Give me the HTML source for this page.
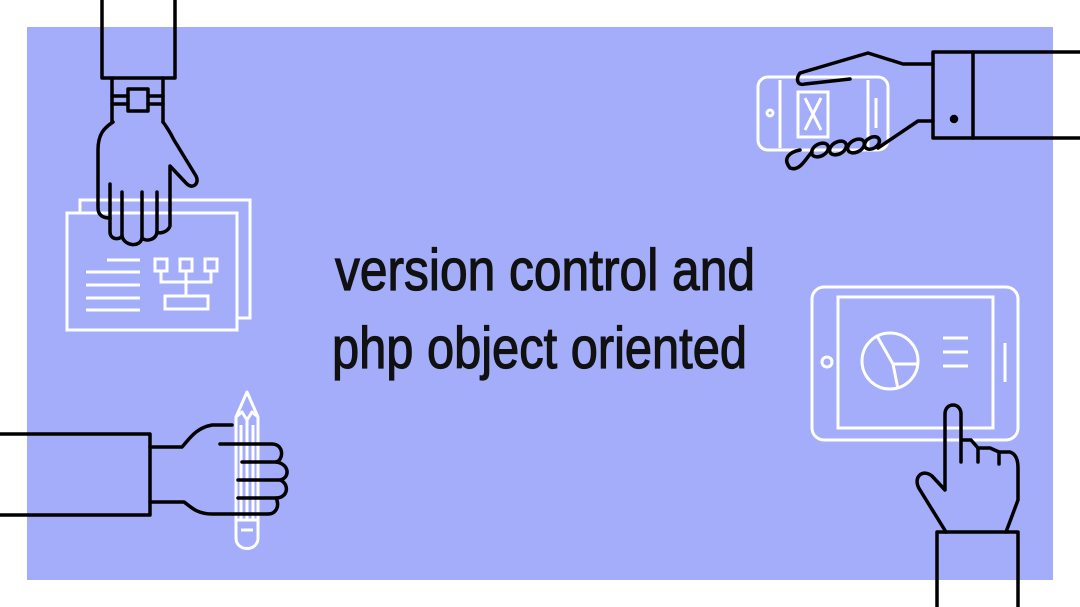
<!DOCTYPE html>
<html><head><meta charset="utf-8"><style>
html,body{margin:0;padding:0;background:#fff;}
svg{display:block;}
</style></head><body>
<svg width="1080" height="607" viewBox="0 0 1080 607" xmlns="http://www.w3.org/2000/svg">
<rect x="27" y="27" width="1026" height="553" fill="#a3adfa"/>

<!-- top-left: document -->
<g fill="none" stroke="#fff" stroke-width="3">
<path d="M80 212 V200 H250 V318 H237"/>
<rect x="67" y="213" width="170" height="117"/>
<path d="M107 260H140M86 272H140M86 285H140M86 298H140M86 310H140"/>
<rect x="155" y="259" width="12" height="12"/><rect x="180" y="259" width="12" height="12"/><rect x="205" y="259" width="12" height="12"/>
<path d="M161 271V282H211V271M186 271V296"/>
<rect x="165" y="296" width="43" height="13"/>
</g>
<!-- top-left: arm -->
<g fill="none" stroke="#000" stroke-width="3.5" stroke-linejoin="round" stroke-linecap="round">
<path d="M102 0V78H175V0"/>
<path d="M112 78V122M163 78V122"/>
<path d="M112 96H128M112 104H128M148 96H163M148 104H163"/>
<rect x="128" y="89" width="20" height="22"/>
<path d="M113 122 C104 128 98 134 98 150 V208 C98 216 104 218 110 218 V232 C110 240 120 240 122 236 C124 246 140 248 142 238 C146 242 156 240 157 232 V232 C160 234 168 232 170 226 V166 L186 183 C192 190 200 184 196 176 L174 140 C170 132 166 126 163 122"/>
<path d="M110 184V218M122 192V236M142 192V238M157 192V232"/>
</g>

<!-- top-right: phone -->
<g fill="none" stroke="#fff" stroke-width="3">
<rect x="758" y="77" width="130" height="73" rx="10"/>
<path d="M780 80V148M868 80V148"/>
<circle cx="770" cy="113" r="3"/>
<rect x="798" y="92" width="30" height="45"/>
<path d="M805 98L821 130M821 98L805 130M876 98V128"/>
</g>
<g fill="none" stroke="#000" stroke-width="3.5" stroke-linejoin="round" stroke-linecap="round">
<path d="M1080 52H933V138H1080"/>
<path d="M973 52V138"/>
<circle cx="954" cy="119" r="2.5" fill="#000"/>
<path d="M933 64H903L868 53 L800 73 C795 80 798 86 805 84 L850 79"/>
<path d="M933 121H918L878 148"/>
<path d="M800 150 C790 152 782 158 790 168 C800 172 806 158 812 152"/>
<ellipse cx="820" cy="150" rx="9" ry="6" transform="rotate(-30 820 150)"/>
<ellipse cx="838" cy="148" rx="9" ry="6" transform="rotate(-30 838 148)"/>
<ellipse cx="856" cy="146" rx="9" ry="6" transform="rotate(-30 856 146)"/>
<ellipse cx="872" cy="143" rx="8" ry="5.5" transform="rotate(-30 872 143)"/>
</g>

<!-- bottom-right: tablet -->
<g fill="none" stroke="#fff" stroke-width="3">
<rect x="812" y="287" width="206" height="153" rx="12"/>
<rect x="838" y="297" width="155" height="131"/>
<circle cx="827" cy="362" r="5"/>
<path d="M1005 343V382"/>
<circle cx="890" cy="361" r="28"/>
<path d="M877 336L893 364L898 389M893 364H918"/>
<path d="M943 338H968M943 352H968M943 366H968"/>
</g>
<g fill="none" stroke="#000" stroke-width="3.5" stroke-linejoin="round" stroke-linecap="round">
<path d="M937 607V532H1018V607"/>
<path d="M946 532 L920 490 C912 478 922 468 932 476 L945 490 V414 C945 402 961 402 961 414 V440 H971 L978 448 H990 L999 452 H1010 C1016 454 1018 460 1018 468 L1018 500 L1006 532"/>
<path d="M961 440V462M978 448V462M999 452V464"/>
</g>

<!-- bottom-left: pencil -->
<g fill="none" stroke="#fff" stroke-width="3" stroke-linejoin="round">
<path d="M236 417 L247 392 L258 417 V538 C258 552 236 552 236 538 Z"/>
<path d="M236 417 L242 412 L247 420 L252 412 L258 417 M247 420V520 M241 425V520 M253 425V520 M236 520H258 M241 530H253"/>
</g>
<g fill="none" stroke="#000" stroke-width="3.5" stroke-linejoin="round" stroke-linecap="round">
<path d="M0 434H150V515H0"/>
<path d="M150 447H182 C190 438 196 428 212 425 H232"/>
<path d="M220 444H272 C284 444 284 460 276 462 C290 464 290 478 280 480 C290 484 288 498 276 498 C280 506 276 514 268 514 H212 C196 514 190 506 184 502 H150"/>
<path d="M242 462H276M238 480H280M238 498H276"/>
</g>

<g font-family="'Liberation Sans Narrow','Liberation Sans',sans-serif" font-size="58" fill="#111" stroke="#111" stroke-width="1.2">
<text x="335" y="290" textLength="420" lengthAdjust="spacingAndGlyphs">version control and</text>
<text x="332" y="368" textLength="415" lengthAdjust="spacingAndGlyphs">php object oriented</text>
</g>
</svg>
</body></html>
